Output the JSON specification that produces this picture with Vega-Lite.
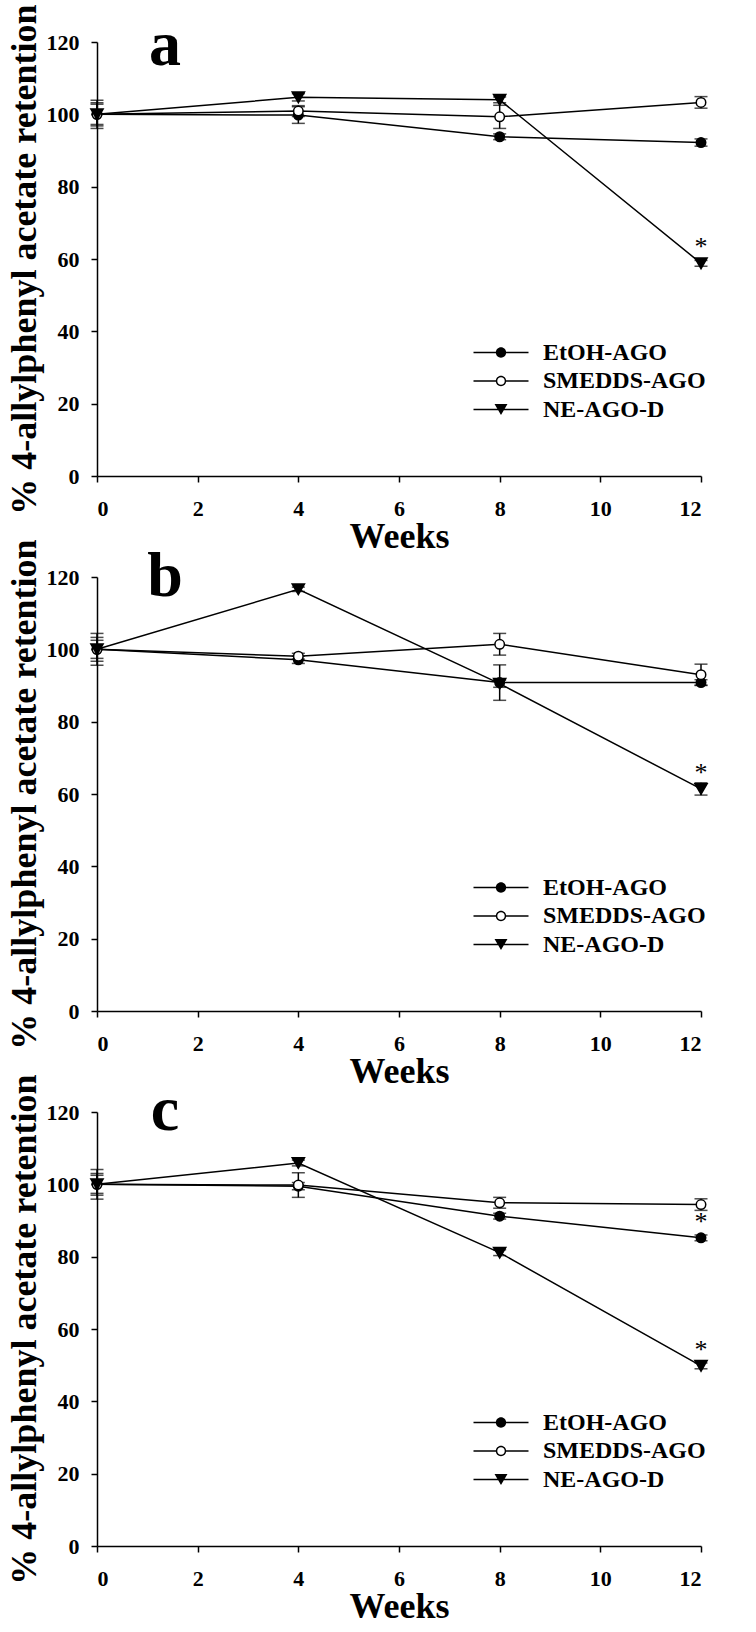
{
  "$schema": "https://vega.github.io/schema/vega-lite/v6.json",
  "padding": {"left": 5, "top": 3, "right": 5, "bottom": 5},
  "background": "white",
  "bounds": "flush",
  "spacing": 101,
  "datasets": {
    "main": [
      {"panel": "a", "group": "EtOH-AGO", "week": 0, "value": 100, "sd": 2.8, "sig": ""},
      {"panel": "a", "group": "EtOH-AGO", "week": 4, "value": 99.8, "sd": 2.3, "sig": ""},
      {"panel": "a", "group": "EtOH-AGO", "week": 8, "value": 93.8, "sd": 0.8, "sig": ""},
      {"panel": "a", "group": "EtOH-AGO", "week": 12, "value": 92.2, "sd": 1.0, "sig": ""},
      {"panel": "a", "group": "SMEDDS-AGO", "week": 0, "value": 100, "sd": 3.9, "sig": ""},
      {"panel": "a", "group": "SMEDDS-AGO", "week": 4, "value": 100.9, "sd": 1.5, "sig": ""},
      {"panel": "a", "group": "SMEDDS-AGO", "week": 8, "value": 99.3, "sd": 3.2, "sig": ""},
      {"panel": "a", "group": "SMEDDS-AGO", "week": 12, "value": 103.3, "sd": 1.6, "sig": ""},
      {"panel": "a", "group": "NE-AGO-D", "week": 0, "value": 100, "sd": 3.2, "sig": ""},
      {"panel": "a", "group": "NE-AGO-D", "week": 4, "value": 104.7, "sd": 1.0, "sig": ""},
      {"panel": "a", "group": "NE-AGO-D", "week": 8, "value": 104.0, "sd": 0.8, "sig": ""},
      {"panel": "a", "group": "NE-AGO-D", "week": 12, "value": 58.8, "sd": 0.8, "sig": "*"},
      {"panel": "b", "group": "EtOH-AGO", "week": 0, "value": 100, "sd": 3.3, "sig": ""},
      {"panel": "b", "group": "EtOH-AGO", "week": 4, "value": 97.1, "sd": 1.0, "sig": ""},
      {"panel": "b", "group": "EtOH-AGO", "week": 8, "value": 90.8, "sd": 4.9, "sig": ""},
      {"panel": "b", "group": "EtOH-AGO", "week": 12, "value": 90.8, "sd": 0.8, "sig": ""},
      {"panel": "b", "group": "SMEDDS-AGO", "week": 0, "value": 100, "sd": 4.4, "sig": ""},
      {"panel": "b", "group": "SMEDDS-AGO", "week": 4, "value": 98.1, "sd": 0.8, "sig": ""},
      {"panel": "b", "group": "SMEDDS-AGO", "week": 8, "value": 101.4, "sd": 3.0, "sig": ""},
      {"panel": "b", "group": "SMEDDS-AGO", "week": 12, "value": 93.0, "sd": 2.9, "sig": ""},
      {"panel": "b", "group": "NE-AGO-D", "week": 0, "value": 100, "sd": 2.5, "sig": ""},
      {"panel": "b", "group": "NE-AGO-D", "week": 4, "value": 116.6, "sd": 0.6, "sig": ""},
      {"panel": "b", "group": "NE-AGO-D", "week": 8, "value": 90.5, "sd": 1.0, "sig": ""},
      {"panel": "b", "group": "NE-AGO-D", "week": 12, "value": 61.4, "sd": 1.7, "sig": "*"},
      {"panel": "c", "group": "EtOH-AGO", "week": 0, "value": 100, "sd": 3.0, "sig": ""},
      {"panel": "c", "group": "EtOH-AGO", "week": 4, "value": 99.5, "sd": 1.0, "sig": ""},
      {"panel": "c", "group": "EtOH-AGO", "week": 8, "value": 91.2, "sd": 0.8, "sig": ""},
      {"panel": "c", "group": "EtOH-AGO", "week": 12, "value": 85.2, "sd": 0.8, "sig": "*"},
      {"panel": "c", "group": "SMEDDS-AGO", "week": 0, "value": 100, "sd": 4.1, "sig": ""},
      {"panel": "c", "group": "SMEDDS-AGO", "week": 4, "value": 99.8, "sd": 3.4, "sig": ""},
      {"panel": "c", "group": "SMEDDS-AGO", "week": 8, "value": 94.9, "sd": 1.5, "sig": ""},
      {"panel": "c", "group": "SMEDDS-AGO", "week": 12, "value": 94.4, "sd": 1.6, "sig": ""},
      {"panel": "c", "group": "NE-AGO-D", "week": 0, "value": 100, "sd": 2.5, "sig": ""},
      {"panel": "c", "group": "NE-AGO-D", "week": 4, "value": 105.9, "sd": 0.8, "sig": ""},
      {"panel": "c", "group": "NE-AGO-D", "week": 8, "value": 81.1, "sd": 0.8, "sig": ""},
      {"panel": "c", "group": "NE-AGO-D", "week": 12, "value": 49.8, "sd": 0.8, "sig": "*"}
    ],
    "letters": [
      {"panel": "a", "week": 1.35, "value": 113.6, "letter": "a"},
      {"panel": "b", "week": 1.35, "value": 114.8, "letter": "b"},
      {"panel": "c", "week": 1.35, "value": 115.0, "letter": "c"}
    ]
  },
  "config": {
    "font": "Liberation Serif",
    "view": {"stroke": null},
    "axis": {
      "grid": false,
      "domainColor": "black", "domainWidth": 1.5,
      "tickColor": "black", "tickWidth": 1.5, "tickSize": 6,
      "labelFont": "Liberation Serif", "labelFontSize": 22, "labelFontWeight": "bold", "labelColor": "black",
      "titleFont": "Liberation Serif", "titleFontSize": 36, "titleFontWeight": "bold", "titleColor": "black"
    },
    "legend": {
      "orient": "none", "legendX": 392, "legendY": 298.5, "title": null, "padding": 0,
      "labelFont": "Liberation Serif", "labelFontSize": 24, "labelFontWeight": "bold", "labelColor": "black", "labelLimit": 0,
      "symbolSize": 484, "rowPadding": 4.5, "labelOffset": 30, "symbolFillColor": "black", "symbolOpacity": 1
    }
  },
  "resolve": {"scale": {"shape": "independent"}, "legend": {"shape": "independent"}},
  "vconcat": [
    {
      "width": 604, "height": 434,
      "resolve": {"scale": {"shape": "independent"}},
      "encoding": {
        "x": {"field": "week", "type": "quantitative", "scale": {"domain": [0, 12]}, "axis": {"values": [0, 2, 4, 6, 8, 10, 12], "title": "Weeks", "labelPadding": 16, "titlePadding": 0}},
        "y": {"field": "value", "type": "quantitative", "scale": {"domain": [0, 120]}, "axis": {"values": [0, 20, 40, 60, 80, 100, 120], "title": "% 4-allylphenyl acetate retention", "labelPadding": 12, "titlePadding": 3}}
      },
      "layer": [
        {"data": {"name": "main"}, "transform": [{"filter": "datum.panel === 'a'"}], "mark": {"type": "line", "color": "black", "strokeWidth": 1.5}, "encoding": {"detail": {"field": "group"}}},
        {"data": {"name": "main"}, "transform": [{"filter": "datum.panel === 'a'"}], "mark": {"type": "errorbar", "color": "black", "thickness": 1.5, "ticks": {"size": 13, "thickness": 1.5, "color": "black"}}, "encoding": {"yError": {"field": "sd"}, "detail": {"field": "group"}}},
        {"data": {"name": "main"}, "transform": [{"filter": "datum.panel === 'a'"}], "mark": {"type": "point", "filled": true, "stroke": "black", "strokeWidth": 1.5, "opacity": 1},
          "encoding": {
            "shape": {"field": "group", "type": "nominal", "scale": {"domain": ["EtOH-AGO", "SMEDDS-AGO", "NE-AGO-D"], "range": ["circle", "circle", "triangle-down"]}, "legend": null},
            "fill": {"condition": {"test": "datum.group === 'SMEDDS-AGO'", "value": "white"}, "value": "black"},
            "size": {"condition": {"test": "datum.group === 'NE-AGO-D'", "value": 150}, "value": 90}
          }},
        {"data": {"name": "main"}, "transform": [{"filter": "false"}], "mark": {"type": "point", "filled": true, "color": "black", "opacity": 1},
          "encoding": {
            "shape": {"field": "group", "type": "nominal", "scale": {"domain": ["EtOH-AGO", "SMEDDS-AGO", "NE-AGO-D"], "range": [
              "M-2.5,-0.068H2.5V0.068H-2.5ZM0.47,0A0.47,0.47,0,1,1,-0.47,0A0.47,0.47,0,1,1,0.47,0Z",
              "M-2.5,-0.068H-0.4V0.068H-2.5ZM0.4,-0.068H2.5V0.068H0.4ZM0.47,0A0.47,0.47,0,1,1,-0.47,0A0.47,0.47,0,1,1,0.47,0ZM0.34,0A0.34,0.34,0,1,0,-0.34,0A0.34,0.34,0,1,0,0.34,0Z",
              "M-2.5,-0.068H2.5V0.068H-2.5ZM-0.59,-0.5L0.59,-0.5L0,0.5Z"]}}
          }},
        {"data": {"name": "main"}, "transform": [{"filter": "datum.panel === 'a'"}], "mark": {"type": "text", "dy": -16, "fontSize": 26, "color": "black"}, "encoding": {"text": {"field": "sig"}}},
        {"data": {"name": "letters"}, "transform": [{"filter": "datum.panel === 'a'"}], "mark": {"type": "text", "fontSize": 64, "fontWeight": "bold", "color": "black", "baseline": "alphabetic"}, "encoding": {"text": {"field": "letter"}}}
      ]
    },
    {
      "width": 604, "height": 434,
      "resolve": {"scale": {"shape": "independent"}},
      "encoding": {
        "x": {"field": "week", "type": "quantitative", "scale": {"domain": [0, 12]}, "axis": {"values": [0, 2, 4, 6, 8, 10, 12], "title": "Weeks", "labelPadding": 16, "titlePadding": 0}},
        "y": {"field": "value", "type": "quantitative", "scale": {"domain": [0, 120]}, "axis": {"values": [0, 20, 40, 60, 80, 100, 120], "title": "% 4-allylphenyl acetate retention", "labelPadding": 12, "titlePadding": 3}}
      },
      "layer": [
        {"data": {"name": "main"}, "transform": [{"filter": "datum.panel === 'b'"}], "mark": {"type": "line", "color": "black", "strokeWidth": 1.5}, "encoding": {"detail": {"field": "group"}}},
        {"data": {"name": "main"}, "transform": [{"filter": "datum.panel === 'b'"}], "mark": {"type": "errorbar", "color": "black", "thickness": 1.5, "ticks": {"size": 13, "thickness": 1.5, "color": "black"}}, "encoding": {"yError": {"field": "sd"}, "detail": {"field": "group"}}},
        {"data": {"name": "main"}, "transform": [{"filter": "datum.panel === 'b'"}], "mark": {"type": "point", "filled": true, "stroke": "black", "strokeWidth": 1.5, "opacity": 1},
          "encoding": {
            "shape": {"field": "group", "type": "nominal", "scale": {"domain": ["EtOH-AGO", "SMEDDS-AGO", "NE-AGO-D"], "range": ["circle", "circle", "triangle-down"]}, "legend": null},
            "fill": {"condition": {"test": "datum.group === 'SMEDDS-AGO'", "value": "white"}, "value": "black"},
            "size": {"condition": {"test": "datum.group === 'NE-AGO-D'", "value": 150}, "value": 90}
          }},
        {"data": {"name": "main"}, "transform": [{"filter": "false"}], "mark": {"type": "point", "filled": true, "color": "black", "opacity": 1},
          "encoding": {
            "shape": {"field": "group", "type": "nominal", "scale": {"domain": ["EtOH-AGO", "SMEDDS-AGO", "NE-AGO-D"], "range": [
              "M-2.5,-0.068H2.5V0.068H-2.5ZM0.47,0A0.47,0.47,0,1,1,-0.47,0A0.47,0.47,0,1,1,0.47,0Z",
              "M-2.5,-0.068H-0.4V0.068H-2.5ZM0.4,-0.068H2.5V0.068H0.4ZM0.47,0A0.47,0.47,0,1,1,-0.47,0A0.47,0.47,0,1,1,0.47,0ZM0.34,0A0.34,0.34,0,1,0,-0.34,0A0.34,0.34,0,1,0,0.34,0Z",
              "M-2.5,-0.068H2.5V0.068H-2.5ZM-0.59,-0.5L0.59,-0.5L0,0.5Z"]}}
          }},
        {"data": {"name": "main"}, "transform": [{"filter": "datum.panel === 'b'"}], "mark": {"type": "text", "dy": -16, "fontSize": 26, "color": "black"}, "encoding": {"text": {"field": "sig"}}},
        {"data": {"name": "letters"}, "transform": [{"filter": "datum.panel === 'b'"}], "mark": {"type": "text", "fontSize": 64, "fontWeight": "bold", "color": "black", "baseline": "alphabetic"}, "encoding": {"text": {"field": "letter"}}}
      ]
    },
    {
      "width": 604, "height": 434,
      "resolve": {"scale": {"shape": "independent"}},
      "encoding": {
        "x": {"field": "week", "type": "quantitative", "scale": {"domain": [0, 12]}, "axis": {"values": [0, 2, 4, 6, 8, 10, 12], "title": "Weeks", "labelPadding": 16, "titlePadding": 0}},
        "y": {"field": "value", "type": "quantitative", "scale": {"domain": [0, 120]}, "axis": {"values": [0, 20, 40, 60, 80, 100, 120], "title": "% 4-allylphenyl acetate retention", "labelPadding": 12, "titlePadding": 3}}
      },
      "layer": [
        {"data": {"name": "main"}, "transform": [{"filter": "datum.panel === 'c'"}], "mark": {"type": "line", "color": "black", "strokeWidth": 1.5}, "encoding": {"detail": {"field": "group"}}},
        {"data": {"name": "main"}, "transform": [{"filter": "datum.panel === 'c'"}], "mark": {"type": "errorbar", "color": "black", "thickness": 1.5, "ticks": {"size": 13, "thickness": 1.5, "color": "black"}}, "encoding": {"yError": {"field": "sd"}, "detail": {"field": "group"}}},
        {"data": {"name": "main"}, "transform": [{"filter": "datum.panel === 'c'"}], "mark": {"type": "point", "filled": true, "stroke": "black", "strokeWidth": 1.5, "opacity": 1},
          "encoding": {
            "shape": {"field": "group", "type": "nominal", "scale": {"domain": ["EtOH-AGO", "SMEDDS-AGO", "NE-AGO-D"], "range": ["circle", "circle", "triangle-down"]}, "legend": null},
            "fill": {"condition": {"test": "datum.group === 'SMEDDS-AGO'", "value": "white"}, "value": "black"},
            "size": {"condition": {"test": "datum.group === 'NE-AGO-D'", "value": 150}, "value": 90}
          }},
        {"data": {"name": "main"}, "transform": [{"filter": "false"}], "mark": {"type": "point", "filled": true, "color": "black", "opacity": 1},
          "encoding": {
            "shape": {"field": "group", "type": "nominal", "scale": {"domain": ["EtOH-AGO", "SMEDDS-AGO", "NE-AGO-D"], "range": [
              "M-2.5,-0.068H2.5V0.068H-2.5ZM0.47,0A0.47,0.47,0,1,1,-0.47,0A0.47,0.47,0,1,1,0.47,0Z",
              "M-2.5,-0.068H-0.4V0.068H-2.5ZM0.4,-0.068H2.5V0.068H0.4ZM0.47,0A0.47,0.47,0,1,1,-0.47,0A0.47,0.47,0,1,1,0.47,0ZM0.34,0A0.34,0.34,0,1,0,-0.34,0A0.34,0.34,0,1,0,0.34,0Z",
              "M-2.5,-0.068H2.5V0.068H-2.5ZM-0.59,-0.5L0.59,-0.5L0,0.5Z"]}}
          }},
        {"data": {"name": "main"}, "transform": [{"filter": "datum.panel === 'c'"}], "mark": {"type": "text", "dy": -16, "fontSize": 26, "color": "black"}, "encoding": {"text": {"field": "sig"}}},
        {"data": {"name": "letters"}, "transform": [{"filter": "datum.panel === 'c'"}], "mark": {"type": "text", "fontSize": 64, "fontWeight": "bold", "color": "black", "baseline": "alphabetic"}, "encoding": {"text": {"field": "letter"}}}
      ]
    }
  ]
}
